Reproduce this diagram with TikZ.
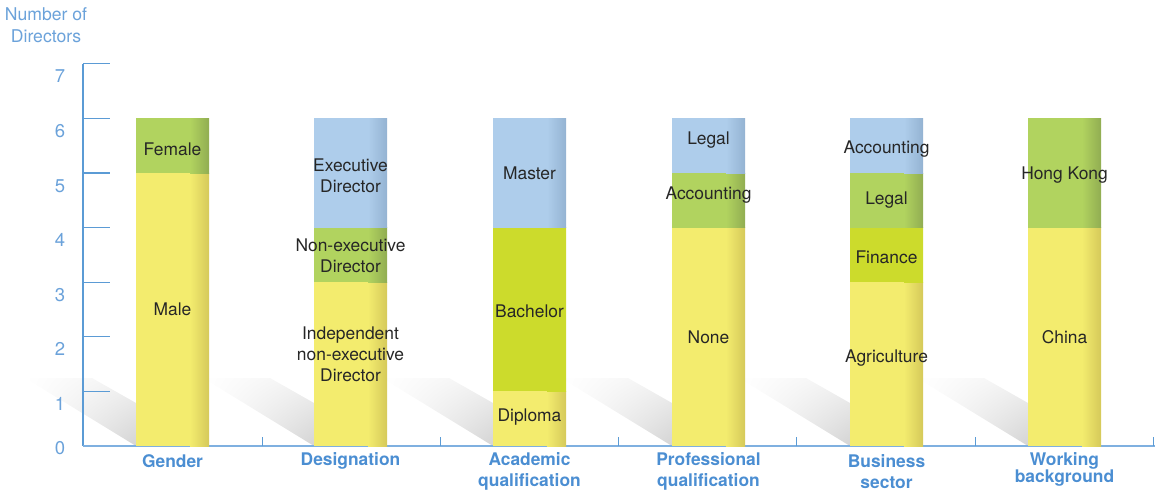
\documentclass[tikz,border=0pt]{standalone}
\usepackage{fontspec}
\setmainfont{TeX Gyre Heros}
\usetikzlibrary{shadings}
\definecolor{yel}{HTML}{F3EC6E}
\definecolor{yelD}{HTML}{D5C95A}
\definecolor{grn}{HTML}{B1D35F}
\definecolor{grnD}{HTML}{91AD52}
\definecolor{blu}{HTML}{AECDEB}
\definecolor{bluD}{HTML}{94B3D2}
\definecolor{lim}{HTML}{CCDB2C}
\definecolor{axisc}{HTML}{5B9BD5}
\definecolor{xaxisc}{HTML}{7FB0E0}
\definecolor{catc}{HTML}{4B8ED2}
\definecolor{tickc}{HTML}{6BA2DA}
\definecolor{txt}{HTML}{262626}
\newcommand\barseg[5]{%
  \fill[#4] (#1,{446-#2*54.6}) rectangle ({#1+73},{446-#3*54.6});
  \shade[left color=#4, right color=#5] ({#1+54},{446-#2*54.6}) rectangle ({#1+73},{446-#3*54.6});}
\newcommand\barshadow[1]{%
  \shade[upper left=white, upper right=black!5, lower left=white, lower right=black!17] (#1,446) -- ({#1-111},378) -- ({#1-44},378) -- (#1,403) -- cycle;}
\tikzset{
  lab/.style={font=\fontsize{17.4}{21}\selectfont, text=txt, align=center, inner sep=0pt},
  cat/.style={font=\fontsize{17.4}{21}\selectfont\bfseries, text=catc, align=center, inner sep=0pt},
  tick/.style={font=\fontsize{18.5}{21}\selectfont, text=tickc, inner sep=0pt},
  axisline/.style={draw=axisc, line width=1.3pt},
}
\begin{document}
\begin{tikzpicture}[x=1pt,y=-1pt]
\useasboundingbox (0,0) rectangle (1155,492);
% shadows
\foreach \xl in {136,314,493,672,850,1028} {\barshadow{\xl}}
% axes
\draw[axisline] (83,64) -- (83,446);
\foreach \k in {0,...,7} {\draw[axisline] (83,{446-\k*54.6}) -- (110,{446-\k*54.6});}
\draw[draw=xaxisc, line width=2pt] (83,446) -- (1155,446);
\foreach \xt in {262,440,618,796,975,1153} {\draw[draw=axisc, line width=1pt] (\xt,446) -- (\xt,437);}
% tick labels
\node[tick] (t0) at (60,448) {0};
\node[tick] (t1) at (60,404) {1};
\node[tick] (t2) at (60,349) {2};
\node[tick] (t3) at (60,295) {3};
\node[tick] (t4) at (60,240) {4};
\node[tick] (t5) at (60,186) {5};
\node[tick] (t6) at (60,131) {6};
\node[tick] (t7) at (60,76) {7};
\node[font=\fontsize{17.6}{22}\selectfont, text=tickc, align=center, inner sep=0pt] (ytitle) at (46,25) {Number of\\Directors};
% bars
\barseg{136}{0}{5}{yel}{yelD}
\barseg{136}{5}{6}{grn}{grnD}
\barseg{314}{0}{3}{yel}{yelD}
\barseg{314}{3}{4}{grn}{grnD}
\barseg{314}{4}{6}{blu}{bluD}
\barseg{493}{0}{1}{yel}{yelD}
\barseg{493}{1}{4}{lim}{lim}
\barseg{493}{4}{6}{blu}{bluD}
\barseg{672}{0}{4}{yel}{yelD}
\barseg{672}{4}{5}{grn}{grnD}
\barseg{672}{5}{6}{blu}{bluD}
\barseg{850}{0}{3}{yel}{yelD}
\barseg{850}{3}{4}{lim}{lim}
\barseg{850}{4}{5}{grn}{grnD}
\barseg{850}{5}{6}{blu}{bluD}
\barseg{1028}{0}{4}{yel}{yelD}
\barseg{1028}{4}{6}{grn}{grnD}
% segment labels
\node[lab] (g1) at (172.5,149) {Female};
\node[lab] (g0) at (172.5,309) {Male};
\node[lab] (d2) at (350.5,175.5) {Executive\\Director};
\node[lab] (d1) at (350.5,256) {Non-executive\\Director};
\node[lab] (d0) at (350.5,354) {Independent\\non-executive\\Director};
\node[lab] (a2) at (529.5,173) {Master};
\node[lab] (a1) at (529.5,311) {Bachelor};
\node[lab] (a0) at (529.5,417) {Diploma};
\node[lab] (p2) at (708.5,140) {Legal};
\node[lab] (p1) at (708.5,195) {Accounting};
\node[lab] (p0) at (708.5,337) {None};
\node[lab] (b3) at (886.5,149) {Accounting};
\node[lab] (b2) at (886.5,200) {Legal};
\node[lab] (b1) at (886.5,257) {Finance};
\node[lab] (b0) at (886.5,358) {Agriculture};
\node[lab] (w1) at (1064.5,175) {Hong Kong};
\node[lab] (w0) at (1064.5,337) {China};
% category labels
\node[cat] (c1) at (172.5,461) {Gender};
\node[cat] (c2) at (350.5,461) {Designation};
\node[cat] (c3) at (529.5,471.5) {Academic\\qualification};
\node[cat] (c4) at (708.5,471.5) {Professional\\qualification};
\node[cat] (c5) at (886.5,471.5) {Business\\sector};
\node[cat] (c6) at (1064.5,469.5) {Working\\[-4pt]background};
\end{tikzpicture}
\end{document}
